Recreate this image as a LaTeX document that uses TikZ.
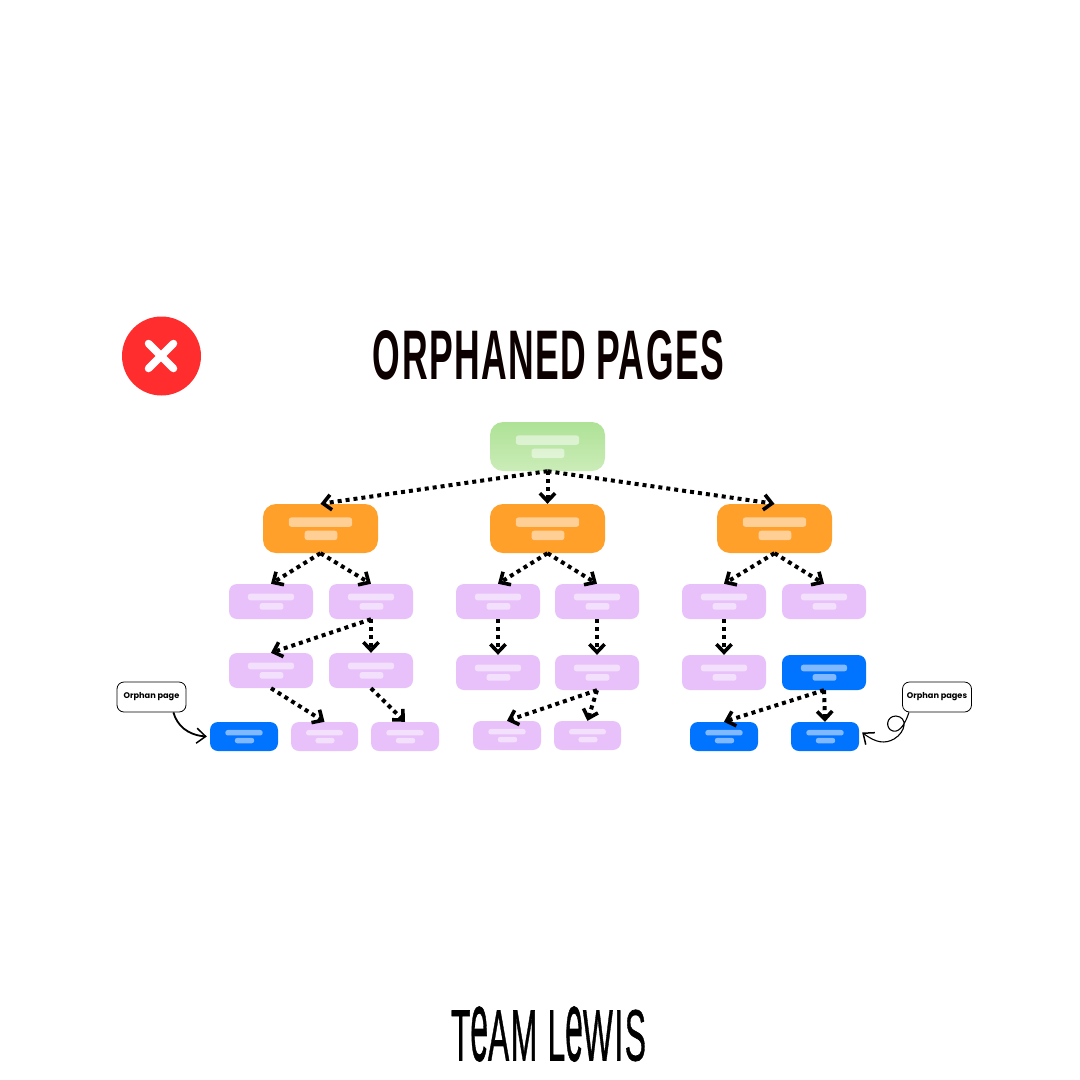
\documentclass[tikz,border=0pt]{standalone}
\usepackage{fontspec}
\setmainfont{Liberation Sans}
\newfontfamily\calloutfont{Poppins}
\newfontfamily\titlefont[LetterSpace=4,WordSpace=0.9,BoldFont={Liberation Sans Bold}]{Liberation Sans}
\newfontfamily\logofont[LetterSpace=5,FakeBold=1]{Liberation Sans}
\usetikzlibrary{arrows.meta,calc}
\definecolor{greenA}{HTML}{AEE296}
\definecolor{greenB}{HTML}{CBECB8}
\definecolor{orangeBox}{HTML}{FFA02B}
\definecolor{purpleBox}{HTML}{E8C1FA}
\definecolor{blueBox}{HTML}{0073FF}
\definecolor{redDot}{HTML}{FF2D2D}
\definecolor{inkTitle}{HTML}{0D0000}
\pgfdeclarearrow{
  name=Chev,
  setup code={\pgfarrowssettipend{0pt}\pgfarrowssetlineend{-5pt}%
    \pgfarrowssetvisualbackend{-10pt}\pgfarrowssetbackend{-10pt}},
  drawing code={%
    \pgfsetdash{}{0pt}\pgfsetlinewidth{3.6pt}\pgfsetmiterjoin\pgfsetbuttcap
    \pgfpathmoveto{\pgfqpoint{-10.6pt}{7.6pt}}%
    \pgfpathlineto{\pgfqpoint{-2.6pt}{0pt}}%
    \pgfpathlineto{\pgfqpoint{-10.6pt}{-7.6pt}}%
    \pgfusepathqstroke}
}
\tikzset{
  pagefill/.style={fill=#1},
  greenfill/.style={top color=greenA,bottom color=greenB,draw=none},
  bar/.style={fill=white,fill opacity=.5,draw=none,inner sep=0pt,rounded corners=2.5pt},
  flow/.style={draw=black,line width=4pt,dash pattern=on 4pt off 4pt,-Chev},
  callout/.style={draw=black,fill=white,line width=.8pt,rounded corners=7pt,
    minimum width=69pt,minimum height=30pt,inner sep=0pt,font=\calloutfont\bfseries\fontsize{8.2}{9}\selectfont},
  note/.style={draw=black,-{Straight Barb[length=9pt,width=15pt,line width=1.5pt]}},
}
\newcommand{\logoe}{\scalebox{1}[1.38]{e}}
% name, left, top, width, height, radius, fill options
\newcommand{\pagebox}[7]{%
  \pgfmathsetmacro{\cxx}{#2+#4/2}%
  \pgfmathsetmacro{\cyy}{#3+#5/2}%
  \pgfmathsetmacro{\baw}{.55*#4}%
  \pgfmathsetmacro{\bbw}{.285*#4}%
  \pgfmathsetmacro{\bh}{.19*#5}%
  \pgfmathsetmacro{\bay}{#3+.37*#5}%
  \pgfmathsetmacro{\bby}{#3+.64*#5}%
  \node[#7,rounded corners=#6pt,minimum width=#4pt,minimum height=#5pt,inner sep=0pt] (#1) at (\cxx,\cyy) {};
  \node[bar,minimum width=\baw pt,minimum height=\bh pt] (#1a) at (\cxx,\bay) {};
  \node[bar,minimum width=\bbw pt,minimum height=\bh pt] (#1b) at (\cxx+.5,\bby) {};
}
\begin{document}
\begin{tikzpicture}[x=1pt,y=-1pt]
\useasboundingbox (0,0) rectangle (1080,1080);
% title
\node[inner sep=0pt,text=inkTitle] (title) at (548.5,355) {\resizebox{351pt}{49pt}{\titlefont\bfseries ORPHANED PAGES}};
\node[circle,fill=redDot,minimum size=79pt,inner sep=0pt] (bad) at (161.5,356) {};
\draw[white,line width=7.5pt,line cap=round] (148.5,343.5) -- (173.5,368.5) (173.5,343.5) -- (148.5,368.5);
% logo
\node[inner sep=0pt] (logo) at (548.5,1034) {\resizebox{195pt}{54pt}{\logofont T\logoe AM L\logoe WIS}};
% level 1, 2
\pagebox{g}{490}{422}{115}{49}{13}{greenfill}
\pagebox{oa}{263}{504}{115}{49}{13}{pagefill=orangeBox}
\pagebox{ob}{490}{504}{115}{49}{13}{pagefill=orangeBox}
\pagebox{oc}{717}{504}{115}{49}{13}{pagefill=orangeBox}
% level 3
\pagebox{pa}{229}{584}{84}{35}{8}{pagefill=purpleBox}
\pagebox{pb}{329}{584}{84}{35}{8}{pagefill=purpleBox}
\pagebox{pc}{456}{584}{84}{35}{8}{pagefill=purpleBox}
\pagebox{pd}{555}{584}{84}{35}{8}{pagefill=purpleBox}
\pagebox{pe}{682}{584}{84}{35}{8}{pagefill=purpleBox}
\pagebox{pf}{782}{584}{84}{35}{8}{pagefill=purpleBox}
% level 4
\pagebox{qa}{229}{653}{84}{35}{8}{pagefill=purpleBox}
\pagebox{qb}{329}{653}{84}{35}{8}{pagefill=purpleBox}
\pagebox{qc}{456}{655}{84}{35}{8}{pagefill=purpleBox}
\pagebox{qd}{555}{655}{84}{35}{8}{pagefill=purpleBox}
\pagebox{qe}{682}{655}{84}{35}{8}{pagefill=purpleBox}
\pagebox{qf}{782}{655}{84}{35}{8}{pagefill=blueBox}
% level 5
\pagebox{ra}{210}{722}{68}{29}{8}{pagefill=blueBox}
\pagebox{rb}{291}{722}{67}{29}{8}{pagefill=purpleBox}
\pagebox{rc}{371}{722}{68}{29}{8}{pagefill=purpleBox}
\pagebox{rd}{473}{721}{68}{29}{8}{pagefill=purpleBox}
\pagebox{re}{554}{721}{67}{29}{8}{pagefill=purpleBox}
\pagebox{rf}{690}{722}{68}{29}{8}{pagefill=blueBox}
\pagebox{rg}{791}{722}{68}{29}{8}{pagefill=blueBox}
% connectors
\draw[flow] (g.south) -- (oa.north);
\draw[flow] (g.south) -- (ob.north);
\draw[flow] (g.south) -- (oc.north);
\draw[flow] (oa.south) -- (pa.north);
\draw[flow] (oa.south) -- (pb.north);
\draw[flow] (ob.south) -- (pc.north);
\draw[flow] (ob.south) -- (pd.north);
\draw[flow] (oc.south) -- (pe.north);
\draw[flow] (oc.south) -- (pf.north);
\draw[flow] (pb.south) -- (qa.north);
\draw[flow] (pb.south) -- (qb.north);
\draw[flow] (pc.south) -- (qc.north);
\draw[flow] (pd.south) -- (qd.north);
\draw[flow] (pe.south) -- (qe.north);
\draw[flow] (qa.south) -- (rb.north);
\draw[flow] (qb.south) -- (rc.north);
\draw[flow] (qd.south) -- (rd.north);
\draw[flow] (qd.south) -- (re.north);
\draw[flow] (qf.south) -- (rf.north);
\draw[flow] (qf.south) -- (rg.north);
% callouts
\node[callout] (c1) at (151.5,697) {Orphan page};
\node[callout] (c2) at (937,697) {Orphan pages};
\draw[note,line width=1.8pt] ([xshift=-13pt]c1.south east) .. controls (177,725) and (187,735) .. ([xshift=-3pt]ra.west);
\draw[note,line width=1.1pt] ([xshift=-63pt]c2.south east) .. controls (906,722) and (900,733) .. (893,731)
  .. controls (885,729) and (886,716) .. (896,716)
  .. controls (908,717) and (906,732) .. (894,739)
  .. controls (885,744) and (876,743) .. ([shift={(3pt,4pt)}]rg.east);
\end{tikzpicture}
\end{document}
